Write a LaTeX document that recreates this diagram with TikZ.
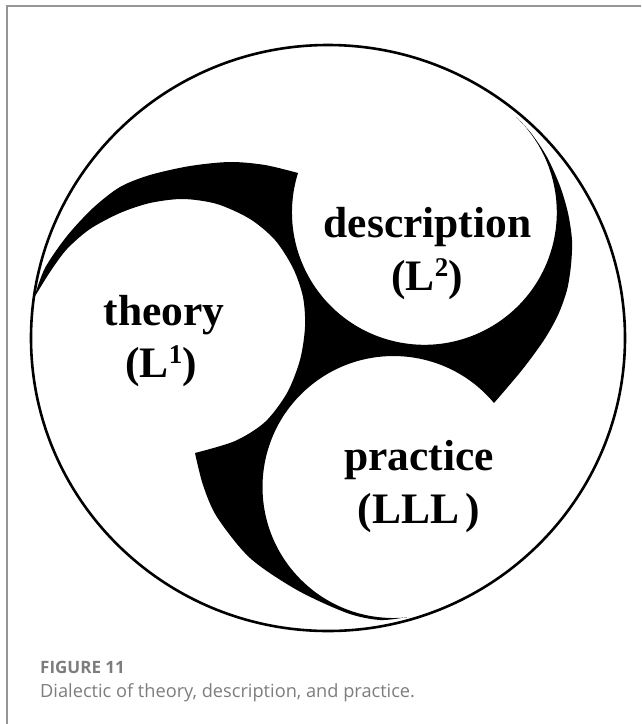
\documentclass[tikz,border=0pt]{standalone}
\usepackage{fontspec}
\setmainfont{Liberation Serif}
\newfontfamily\capfont{Open Sans}
\definecolor{framegray}{RGB}{150,150,150}
\definecolor{capgray}{RGB}{125,125,125}
\newcommand{\supnum}[1]{\raisebox{14pt}{\fontsize{27}{27}\selectfont #1}}
\tikzset{
  lbl/.style={font=\fontsize{43.5}{52}\selectfont\bfseries, anchor=base, inner sep=0pt},
  capfig/.style={font=\capfont\bfseries\fontsize{17}{20}\selectfont, text=capgray, anchor=base west, inner sep=0pt},
  captext/.style={font=\capfont\fontsize{18.2}{22}\selectfont, text=capgray, anchor=base west, inner sep=0pt},
  outerring/.style={line width=2.6pt, black}
}
\begin{document}
\begin{tikzpicture}[x=1pt,y=-1pt]
\useasboundingbox (0,0) rectangle (641,724);
% frame
\draw[framegray, line width=1.5pt] (641,6) -- (7,6) -- (7,724);
% black triskelion region
\begin{scope}
\clip (328,338) ellipse [x radius=297, y radius=293];
\fill[black]
  plot[smooth] coordinates {(34,298) (45,268) (67,236) (93,208) (120,187) (150,175) (190,166) (230,162) (265,165) (298,173)}
  arc[start angle=197.3, end angle=-46.2, radius=132.4]
  -- plot[smooth] coordinates {(516,117) (531,133) (547,157) (560,186) (568,213) (572,240) (571,265) (567,290) (558,315) (544,340) (522,370) (494,403)}
  arc[start angle=-39.9, end angle=-275.9, radius=131]
  -- plot[smooth] coordinates {(407,617) (380,620) (347,613) (297,590) (250,558) (217,517) (203,485) (195,453)}
  -- plot[smooth] coordinates {(195,453) (235,441) (265,422) (287,393) (300,360) (305,327) (303,297) (293,268) (275,240) (250,219) (217,204) (183,199) (150,203) (120,213) (90,229) (67,249) (50,272) (34,298)}
  -- cycle;
\end{scope}
% outer ring
\draw[outerring] (328,338) ellipse [x radius=297, y radius=293];
% labels
\node[lbl] (theory) at (164,325) {theory};
\node[lbl] (l1) at (161,377) {(L\supnum{1})};
\node[lbl] (desc) at (427.5,237) {description};
\node[lbl] (l2) at (427,290) {(L\supnum{2})};
\node[lbl] (prac) at (419,470) {practice};
\node[lbl] (lll) at (419,523) {(LLL\kern6pt)};
% caption
\node[capfig] (fig) at (40,673) {FIGURE 11};
\node[captext] (cap) at (40,697) {Dialectic of theory, description, and practice.};
\end{tikzpicture}
\end{document}
